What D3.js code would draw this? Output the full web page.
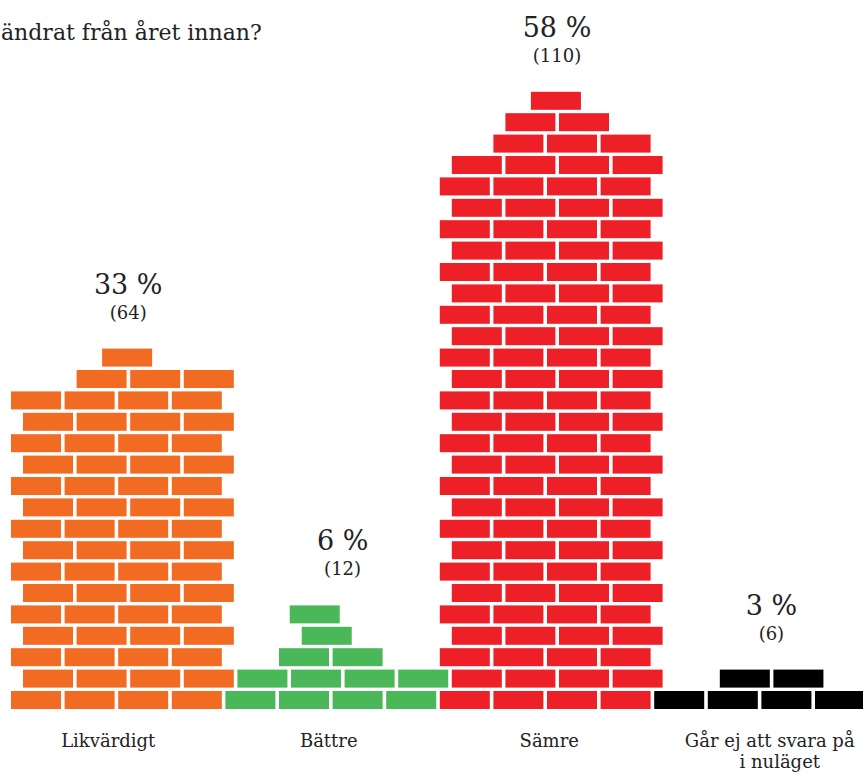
<!DOCTYPE html>
<html>
<head>
<meta charset="utf-8">
<script src="https://cdn.jsdelivr.net/npm/d3@7/dist/d3.min.js"></script>
<style>
  html, body { margin: 0; padding: 0; background: #fff; overflow: hidden; }
  svg { display: block; }
  text { font-family: "DejaVu Serif", "Liberation Serif", serif; fill: #222; }
</style>
</head>
<body>
<svg id="chart" width="863" height="776"></svg>
<script>
// ---- data ----
const title = "ändrat från året innan?";
const categories = ["Likvärdigt", "Bättre", "Sämre", "Går ej att svara på i nuläget"];
const categoryLines = [["Likvärdigt"], ["Bättre"], ["Sämre"], ["Går ej att svara på", "i nuläget"]];
const counts = [64, 12, 110, 6];
const percents = [33, 6, 58, 3];
// bricks in the partial rows on top of each wall (bottom to top)
const capRows = [[3, 1], [2, 1, 1], [3, 2, 1], [2]];
const colors = ["#f26b23", "#4ab859", "#ed2027", "#000000"];

// ---- layout ----
const W = 863, H = 776;
const svg = d3.select("#chart");
const bricksPerRow = 4;

const x = d3.scaleBand().domain(categories).range([11, 868.6]).padding(0);
const xLabel = d3.scaleBand().domain(categories).range([-2, 880]).padding(0);
const slot = x.bandwidth() / bricksPerRow;          // ~53.6
const brickW = slot * 0.933;
const rowShift = slot * 0.224;
const y = d3.scaleLinear().domain([0, 1]).range([691, 669.6]); // row index -> top y
const brickH = 18;
const color = d3.scaleOrdinal().domain(categories).range(colors);

// build bricks from data
const bricks = [];
const tops = [];
categories.forEach((cat, i) => {
  const cap = capRows[i];
  const capSum = d3.sum(cap);
  const full = (counts[i] - capSum) / bricksPerRow;
  const singles = cap.filter(n => n === 1).length;
  for (let r = 0; r < full; r++) {
    for (let s = 0; s < bricksPerRow; s++) bricks.push({cat, row: r, slot: s});
  }
  cap.forEach((n, k) => {
    const row = full + k;
    const start = n >= 2 ? 1 : (singles > 1 ? 1.2 : 1.7);
    for (let s = 0; s < n; s++) bricks.push({cat, row, slot: start + s});
  });
  tops.push(full + cap.length - 1);
});

svg.append("g").selectAll("rect")
  .data(bricks)
  .join("rect")
  .attr("x", d => x(d.cat) + (d.row % 2 ? rowShift : 0) + d.slot * slot)
  .attr("y", d => y(d.row))
  .attr("width", brickW)
  .attr("height", brickH)
  .attr("fill", d => color(d.cat));

// value labels
const valG = svg.append("g");
categories.forEach((cat, i) => {
  const cx = x(cat) + x.bandwidth() / 2 + 10;
  const topY = y(tops[i]);
  valG.append("text")
    .attr("x", cx).attr("y", topY - 55)
    .attr("text-anchor", "middle")
    .style("font-size", "27px")
    .text(percents[i] + " %");
  valG.append("text")
    .attr("x", cx).attr("y", topY - 30)
    .attr("text-anchor", "middle")
    .style("font-size", "18px")
    .text("(" + counts[i] + ")");
});

// category labels
const labG = svg.append("g");
categories.forEach((cat, i) => {
  const cx = xLabel(cat) + xLabel.bandwidth() / 2;
  const t = labG.append("text")
    .attr("x", cx)
    .attr("y", 747)
    .attr("text-anchor", "middle")
    .style("font-size", "18px");
  categoryLines[i].forEach((line, j) => {
    t.append("tspan")
      .attr("x", cx + (j === 0 ? 0 : 10))
      .attr("dy", j === 0 ? 0 : 21)
      .text(line);
  });
});

// title (only its visible end is shown, as in the source)
svg.append("text")
  .attr("x", 1).attr("y", 40)
  .attr("text-anchor", "start")
  .style("font-size", "22px")
  .text(title);
</script>
</body>
</html>
